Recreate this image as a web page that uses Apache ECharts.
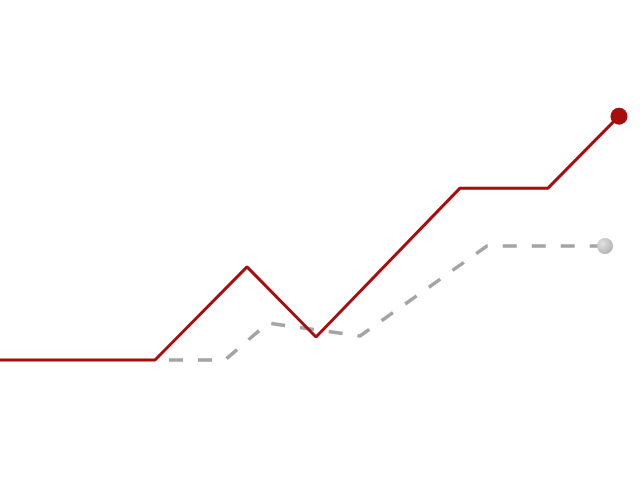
<!DOCTYPE html>
<html>
<head>
<meta charset="utf-8">
<script src="https://cdn.jsdelivr.net/npm/echarts@6/dist/echarts.min.js"></script>
<style>
  html, body { margin: 0; padding: 0; background: #fff; }
  #chart { width: 640px; height: 480px; }
</style>
</head>
<body>
<div id="chart"></div>
<script>
// x positions and values
const mainX = [0, 15.5, 24.7, 31.6, 46, 54.8, 61.9];
const mainY = [25, 25, 44.4, 29.8, 60.8, 60.8, 75.8];
const refX = [16.9, 22.5, 26.8, 36, 48.7, 60.5];
const refY = [25, 25, 32.7, 30, 48.75, 48.75];

// only the last point of each line gets a dot
function toPoints(xs, ys, dot) {
  return xs.map((x, i) => {
    const p = { value: [x, ys[i]] };
    if (i === xs.length - 1) {
      p.symbol = 'circle';
      p.symbolSize = dot;
    }
    return p;
  });
}

const chart = echarts.init(document.getElementById('chart'));
chart.setOption({
  animation: false,
  grid: { left: 0, right: 0, top: 0, bottom: 0 },
  xAxis: { type: 'value', min: 0, max: 64, show: false },
  yAxis: { type: 'value', min: 0, max: 100, show: false },
  series: [
    {
      type: 'line',
      z: 2,
      symbol: 'none',
      data: toPoints(refX, refY, 16),
      lineStyle: { color: '#a4a4a4', width: 3.5, type: [14, 15] },
      itemStyle: {
        color: {
          type: 'radial', x: 0.35, y: 0.35, r: 0.7,
          colorStops: [
            { offset: 0, color: '#e2e2e2' },
            { offset: 1, color: '#b2b2b2' }
          ]
        }
      }
    },
    {
      type: 'line',
      z: 3,
      symbol: 'none',
      data: toPoints(mainX, mainY, 17),
      lineStyle: { color: '#a80c0c', width: 3 },
      itemStyle: { color: '#a80c0c' }
    }
  ]
});
</script>
</body>
</html>
